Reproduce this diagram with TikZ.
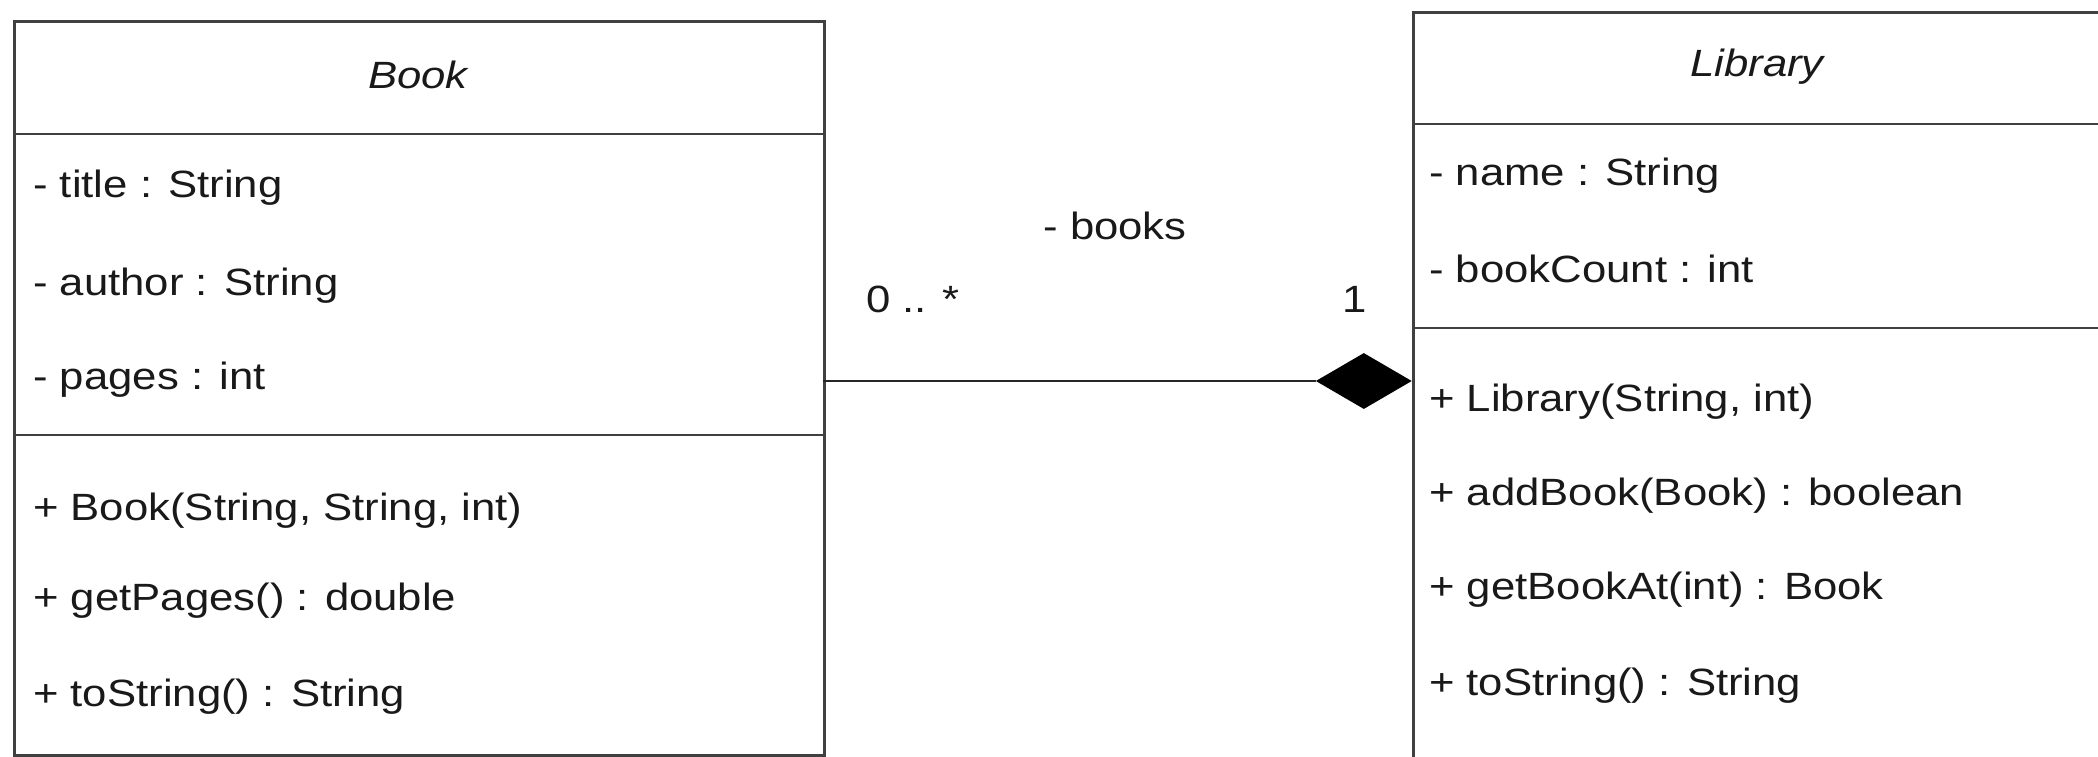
\documentclass[tikz,border=0pt]{standalone}
\usepackage{fontspec}
\setmainfont{Liberation Sans}[FakeStretch=1.15]
\usetikzlibrary{shapes.geometric}
\begin{document}
\begin{tikzpicture}[x=1pt,y=-1pt,
  box/.style={draw=black!75, line width=2.8pt, inner sep=0pt, anchor=north west},
  sep/.style={draw=black!75, line width=2.8pt},
  txt/.style={font=\fontsize{38}{44}\selectfont, text=black!90, inner sep=0pt, anchor=west},
  ttl/.style={font=\fontsize{38}{44}\selectfont\itshape, text=black!90, inner sep=0pt},
  conn/.style={draw=black!85, line width=2.8pt}]
\useasboundingbox (0,0) rectangle (2098,756);
% Book
\node[box, minimum width=810pt, minimum height=734pt] (book) at (13,20) {};
\node[ttl] (bookt) at (418,75) {Book};
\coordinate (bd1) at (13,134);
\coordinate (bd2) at (13,435);
\draw[sep] (bd1) -- (bd1 -| book.east);
\draw[sep] (bd2) -- (bd2 -| book.east);
\node[txt] (b1) at (33,188) {- title : String};
\node[txt] (b2) at (33,286) {- author : String};
\node[txt] (b3) at (33,380) {- pages : int};
\node[txt] (b4) at (33,511) {+ Book(String, String, int)};
\node[txt] (b5) at (33,601) {+ getPages() : double};
\node[txt] (b6) at (33,697) {+ toString() : String};
% Library
\node[box, minimum width=700pt, minimum height=760pt] (lib) at (1412,11) {};
\node[ttl] (libt) at (1757,67) {Library};
\coordinate (ld1) at (1412,124);
\coordinate (ld2) at (1412,328);
\draw[sep] (ld1) -- (ld1 -| lib.east);
\draw[sep] (ld2) -- (ld2 -| lib.east);
\node[txt] (l1) at (1429,176) {- name : String};
\node[txt] (l2) at (1429,269) {- bookCount : int};
\node[txt] (l3) at (1429,402) {+ Library(String, int)};
\node[txt] (l4) at (1429,496) {+ addBook(Book) : boolean};
\node[txt] (l5) at (1429,590) {+ getBookAt(int) : Book};
\node[txt] (l6) at (1429,686) {+ toString() : String};
% Composition
\node[diamond, fill=black, draw=none, minimum width=96pt, minimum height=56pt, inner sep=0pt, anchor=east] (dia) at (1412,381) {};
\coordinate (cs) at (823,381);
\draw[conn] (cs) -- (dia.west);
\node[txt, anchor=center] (role) at (1115,226) {- books};
\node[txt, anchor=center] (m1) at (913,299) {0 .. *};
\node[txt, anchor=center] (m2) at (1355,299) {1};
\end{tikzpicture}
\end{document}
